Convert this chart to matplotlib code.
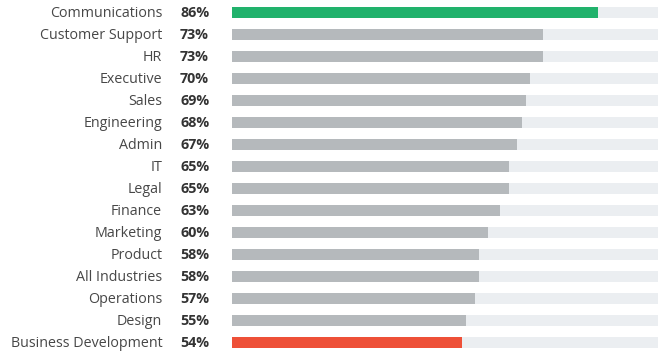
import matplotlib
matplotlib.use('Agg')
import matplotlib.pyplot as plt
from matplotlib.transforms import blended_transform_factory, offset_copy

plt.rcParams['font.family'] = ['Open Sans', 'DejaVu Sans']

departments = ["Communications", "Customer Support", "HR", "Executive", "Sales",
               "Engineering", "Admin", "IT", "Legal", "Finance", "Marketing",
               "Product", "All Industries", "Operations", "Design",
               "Business Development"]
scores = [86, 73, 73, 70, 69, 68, 67, 65, 65, 63, 60, 58, 58, 57, 55, 54]

grey = '#b5b9bc'
colors = [grey] * len(scores)
colors[0] = '#21b26c'
colors[-1] = '#ee5038'

fig = plt.figure(figsize=(6.67, 3.58), dpi=100)
ax = fig.add_axes([232 / 667, 5 / 358, 426 / 667, 351.7 / 358])

pos = list(range(len(departments)))
ax.barh(pos, [100] * len(pos), height=0.5, color='#ebeef1', zorder=1)
ax.barh(pos, scores, height=0.5, color=colors, zorder=2)

ax.set_xlim(0, 100)
ax.set_ylim(len(pos) - 0.5, -0.5)
ax.axis('off')

trans = blended_transform_factory(ax.transAxes, ax.transData)
trans = offset_copy(trans, fig=fig, y=-0.8, units='points')
for i, (name, val) in enumerate(zip(departments, scores)):
    ax.text(-0.164, i, name, transform=trans, ha='right', va='center',
            fontsize=10.3, color='#474747')
    ax.text(-0.122, i, '{}%'.format(val), transform=trans, ha='left', va='center',
            fontsize=10.3, fontweight='bold', color='#333333')

fig.savefig('out.png', dpi=100)
